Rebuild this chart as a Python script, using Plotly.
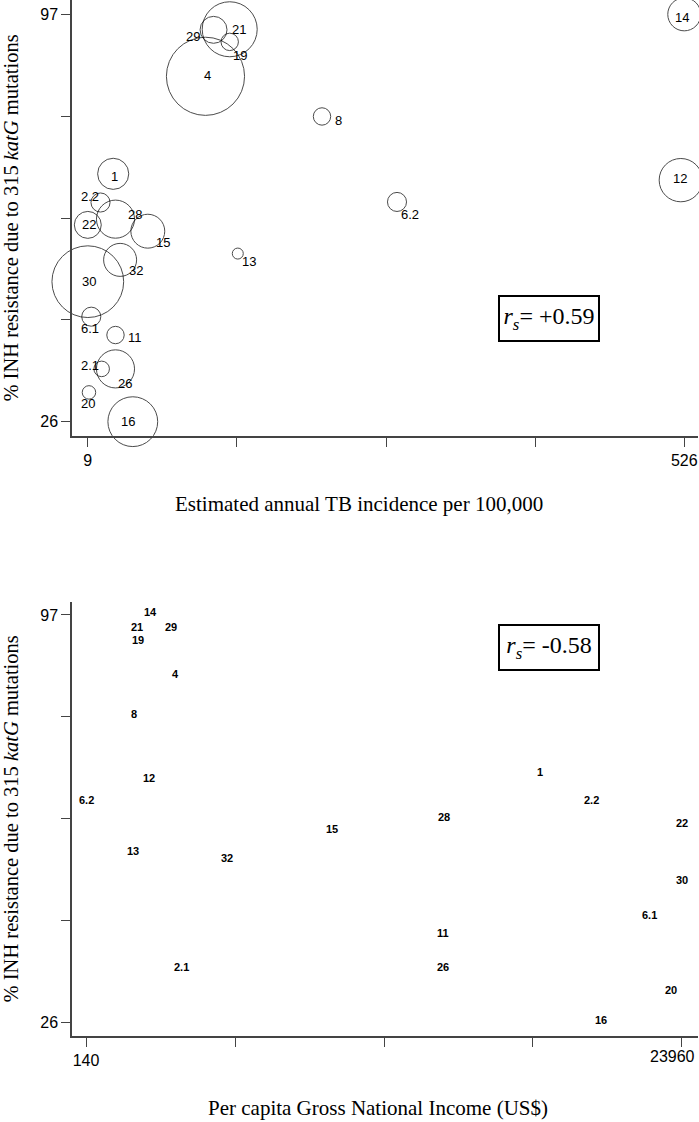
import plotly.graph_objects as go
from plotly.subplots import make_subplots

# strain labels and shared y values (% INH resistance due to 315 katG)
labels = ["14", "21", "29", "19", "4", "8", "1", "12", "2.2", "6.2", "28",
          "22", "15", "13", "32", "30", "6.1", "11", "2.1", "26", "20", "16"]
inh_pct = [97, 94.4, 94.3, 92.2, 86.2, 79.2, 69.2, 68.1, 64.2, 64.3, 61.3,
           60.3, 59.2, 55.3, 54.2, 50.4, 44.3, 41.1, 35.2, 35.2, 31.1, 26]

# top panel: TB incidence per 100,000 and bubble size (isolates)
tb_incidence = [526, 132, 118, 132, 111, 212, 31, 523, 20, 277, 33,
                9, 61, 139, 37, 9, 12, 33, 21, 33, 10, 48]
n_isolates = [18, 50, 12, 5, 101, 5, 16, 31, 6, 6, 24,
              12, 19, 2, 18, 85, 6, 5, 4, 24, 3, 41]

# bottom panel: per capita GNI (US$)
gni = [2698, 2190, 3537, 2206, 3697, 2070, 18285, 2658, 20351, 140, 14448,
       23960, 9960, 2030, 5763, 23960, 22653, 14420, 3965, 14420, 23508, 20711]

# label offsets from bubble centre in the top panel (px, right / down)
label_shift = [(-2, 3), (9, 0), (-21, 7), (10, 14), (2, -1), (16, 4), (1, 3),
               (-1, -2), (-11, -6), (13, 13), (20, -5), (1, 0), (15, 11),
               (11, 8), (16, 11), (1, 0), (-1, 12), (20, 2), (-12, -3),
               (10, 15), (-1, 11), (-5, 0)]

fig = make_subplots(rows=2, cols=1)

fig.add_trace(go.Scatter(
    x=tb_incidence, y=inh_pct, mode="markers",
    marker=dict(size=n_isolates, sizemode="area", sizeref=1 / 30.25,
                color="rgba(0,0,0,0)", line=dict(color="black", width=1)),
    cliponaxis=False, showlegend=False), row=1, col=1)

label_font = dict(family="Liberation Sans, Arial", size=13, color="black")
small_font = dict(family="Liberation Sans, Arial", size=11, color="black",
                  weight="bold")
tick_font = dict(family="Liberation Sans, Arial", size=16, color="black")

annotations = []
for lab, xv, yv, (dx, dy) in zip(labels, tb_incidence, inh_pct, label_shift):
    annotations.append(dict(text=lab, x=xv, y=yv, xref="x", yref="y",
                            xshift=dx, yshift=-dy, showarrow=False,
                            font=label_font))
for lab, xv, yv in zip(labels, gni, inh_pct):
    annotations.append(dict(text=lab, x=xv, y=yv, xref="x2", yref="y2",
                            yshift=3, showarrow=False, font=small_font))

axis_style = dict(showgrid=False, zeroline=False, showline=True,
                  linecolor="#444", linewidth=1.5, ticks="outside",
                  ticklen=9, tickwidth=1.2, tickcolor="#444",
                  tickfont=tick_font)
ytitle = dict(text="% INH resistance due to 315 <i>katG</i> mutations",
              font=dict(family="Liberation Serif, Times New Roman", size=20.5,
                        color="black"), standoff=16)
minor_style = dict(ticks="outside", ticklen=9, tickwidth=1.2,
                   tickcolor="#444", showgrid=False)

fig.update_xaxes(axis_style)
fig.update_yaxes(axis_style)
fig.update_xaxes(automargin=False, ticklabeloverflow="allow")

fig.update_xaxes(row=1, col=1, range=[-4.7, 537.9], tickvals=[9, 526],
                 minor=dict(minor_style, tickvals=[138.25, 267.5, 396.75]),
                 domain=[0, 1])
fig.update_xaxes(row=2, col=1, range=[-420, 24600], tickvals=[140],
                 minor=dict(minor_style,
                            tickvals=[6095, 12050, 18005, 23960]),
                 domain=[0, 1])
fig.update_yaxes(row=1, col=1, range=[23.5, 99.5], tickvals=[26, 97],
                 minor=dict(minor_style, tickvals=[43.75, 61.5, 79.25]),
                 title=ytitle, domain=[0.6114, 1.0])
fig.update_yaxes(row=2, col=1, range=[23.7, 99.3], tickvals=[26, 97],
                 minor=dict(minor_style, tickvals=[43.75, 61.5, 79.25]),
                 title=ytitle, domain=[0.0767, 0.4637])

xtitle_font = dict(family="Liberation Serif, Times New Roman", size=21,
                   color="black")
box_font = dict(family="Liberation Serif, Times New Roman", size=24,
                color="black")

annotations += [
    # last GNI tick label sits left of its tick, as in the source figure
    dict(text="23960", x=23960, y=0, xref="x2", yref="y2 domain",
         xanchor="center", yanchor="middle", xshift=-9, yshift=-21,
         showarrow=False, font=tick_font),
    dict(text="Estimated annual TB incidence per 100,000", xref="paper",
         yref="paper", x=0.4585, y=(1122 - 504) / 1122, showarrow=False,
         xanchor="center", yanchor="middle", font=xtitle_font),
    dict(text="Per capita Gross National Income (US$)", xref="paper",
         yref="paper", x=0.4896, y=(1122 - 1108) / 1122, showarrow=False,
         xanchor="center", yanchor="middle", font=xtitle_font),
    dict(text="<i>r<sub>s</sub></i>= +0.59", xref="x domain",
         yref="y domain", x=0.762, y=0.27, showarrow=False,
         xanchor="center", yanchor="middle", font=box_font,
         bordercolor="black", borderwidth=2, borderpad=0,
         width=98, height=43, bgcolor="white"),
    dict(text="<i>r<sub>s</sub></i>= -0.58", xref="x2 domain",
         yref="y2 domain", x=0.762, y=0.894, showarrow=False,
         xanchor="center", yanchor="middle", font=box_font,
         bordercolor="black", borderwidth=2, borderpad=0,
         width=98, height=43, bgcolor="white"),
]

fig.update_layout(
    width=699, height=1122, margin=dict(l=72, r=1, t=0, b=0),
    plot_bgcolor="white", paper_bgcolor="white", annotations=annotations,
)

fig.write_html("out.html", config={"displayModeBar": False},
               post_script="document.body.style.margin='0';"
                           "document.body.style.overflow='hidden';")
